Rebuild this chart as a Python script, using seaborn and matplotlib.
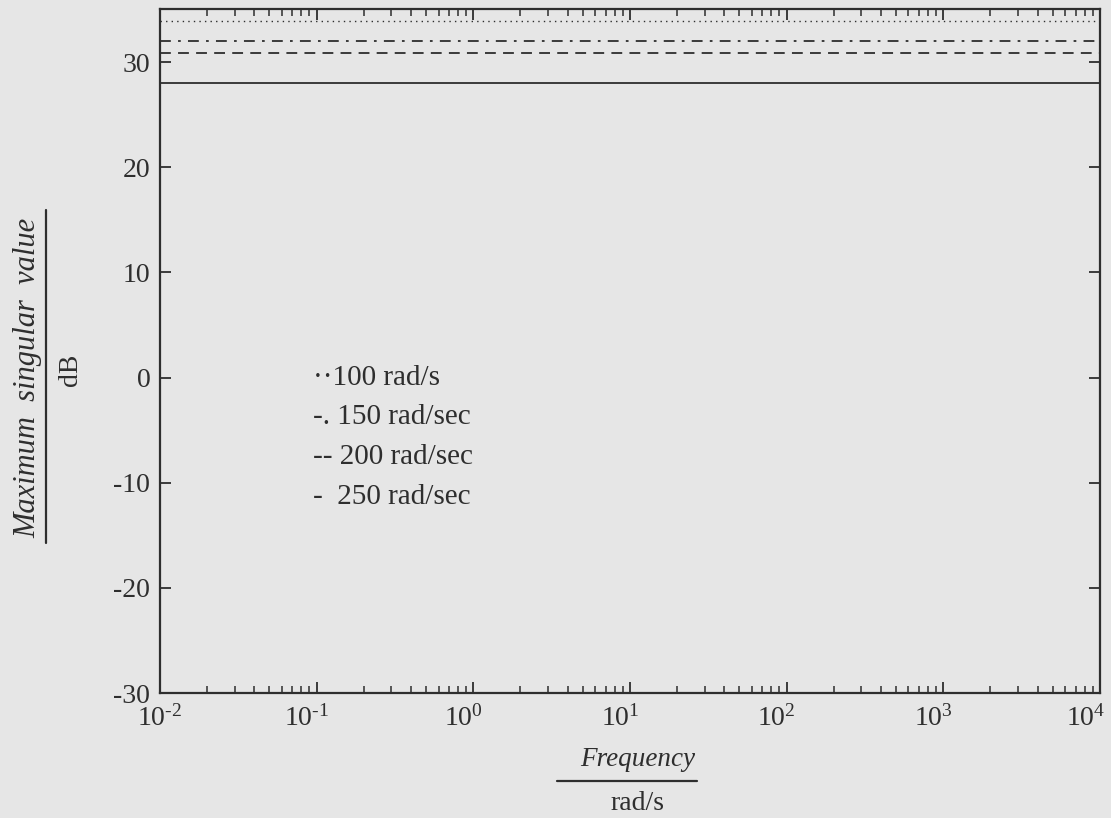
import numpy as np
import pandas as pd
import matplotlib
matplotlib.use("Agg")
import matplotlib.pyplot as plt
from matplotlib.lines import Line2D
from matplotlib.ticker import LogLocator, FixedLocator, FixedFormatter
from matplotlib.transforms import ScaledTranslation
import seaborn as sns

# Maximum singular value (dB) for each bandwidth setting, flat over frequency
freq = [1e-2, 1e4]
sv_100 = [33.9, 33.9]
sv_150 = [32.0, 32.0]
sv_200 = [30.9, 30.9]
sv_250 = [28.0, 28.0]
series_names = ["100 rad/s", "150 rad/sec", "200 rad/sec", "250 rad/sec"]
legend_labels = ["\u00b7\u00b7100 rad/s", "-. 150 rad/sec", "-- 200 rad/sec", "-  250 rad/sec"]
y_ticks = [-30, -20, -10, 0, 10, 20, 30]
x_ticks = [1e-2, 1e-1, 1e0, 1e1, 1e2, 1e3, 1e4]
x_tick_labels = [r"$10^{\text{-2}}$", r"$10^{\text{-1}}$", r"$10^{0}$", r"$10^{1}$",
                 r"$10^{2}$", r"$10^{3}$", r"$10^{4}$"]

df = pd.concat([
    pd.DataFrame({"freq": freq, "sv": vals, "case": name})
    for name, vals in zip(series_names, [sv_100, sv_150, sv_200, sv_250])
])

sns.set_theme(style="ticks")
bg = "#e6e6e6"
ink = "#2e2e2e"
plt.rcParams["font.family"] = ["Liberation Serif", "DejaVu Serif"]
plt.rcParams["mathtext.fontset"] = "custom"
plt.rcParams["mathtext.rm"] = "Liberation Serif"
plt.rcParams["mathtext.it"] = "Liberation Serif:italic"
plt.rcParams["axes.unicode_minus"] = False

fig = plt.figure(figsize=(11.11, 8.18), dpi=100, facecolor=bg)
ax = fig.add_axes([0.144, 0.1528, 0.846, 0.8356], facecolor=bg)

styles = {"100 rad/s": (0, (1, 3)), "150 rad/sec": (0, (6, 4, 1.5, 4)),
          "200 rad/sec": (0, (6, 4)), "250 rad/sec": "-"}
for name in series_names:
    sub = df[df["case"] == name]
    sns.lineplot(data=sub, x="freq", y="sv", ax=ax, color=ink,
                 linewidth=1.3 if name != "100 rad/s" else 1.0,
                 linestyle=styles[name], legend=False)

ax.set_xscale("log")
ax.set_xlim(1e-2, 1e4)
ax.set_ylim(-30, 35)
ax.yaxis.set_major_locator(FixedLocator(y_ticks))
ax.yaxis.set_major_formatter(FixedFormatter([str(t) for t in y_ticks]))
ax.xaxis.set_major_locator(FixedLocator(x_ticks))
ax.xaxis.set_major_formatter(FixedFormatter(x_tick_labels))
ax.xaxis.set_minor_locator(LogLocator(base=10, subs=np.arange(2, 10), numticks=20))
ax.set_xlabel("")
ax.set_ylabel("")

for s in ax.spines.values():
    s.set_color(ink)
    s.set_linewidth(1.6)
ax.tick_params(which="both", direction="in", top=True, right=True, colors=ink)
ax.tick_params(which="major", length=8, width=1.3, labelsize=20, pad=7, labelcolor=ink)
ax.tick_params(which="minor", length=5, width=1.1)
ax.tick_params(axis="x", which="major", pad=9)

# nudge the decade labels slightly left of their ticks (first one stays centred)
xlabels = ax.get_xticklabels()
for k, lab in enumerate(xlabels):
    dx = 0 if k == 0 else (-14 if k == len(xlabels) - 1 else -10)
    lab.set_transform(lab.get_transform()
                      + ScaledTranslation(dx / 100, 0, fig.dpi_scale_trans))

# Legend entries written as plain text inside the axes
for i, lab in enumerate(legend_labels):
    ax.text(0.095, 0 - 3.8 * i, lab, fontsize=21, color=ink, va="center", ha="left")

# Axis labels drawn as fractions: quantity over unit
fig.text(638 / 1111, 1 - 760 / 818, "Frequency", fontsize=19.5, style="italic",
         color=ink, ha="center", va="center")
fig.add_artist(Line2D([557 / 1111, 697 / 1111], [1 - 781 / 818, 1 - 781 / 818],
                      color=ink, linewidth=1.6))
fig.text(637 / 1111, 1 - 803 / 818, "rad/s", fontsize=20, color=ink,
         ha="center", va="center")

fig.text(28 / 1111, 1 - 378 / 818, "Maximum  singular  value", fontsize=22,
         style="italic", color=ink, rotation=90, ha="center", va="center")
fig.add_artist(Line2D([46 / 1111, 46 / 1111], [1 - 543 / 818, 1 - 210 / 818],
                      color=ink, linewidth=1.6))
fig.text(70 / 1111, 1 - 370 / 818, "dB", fontsize=20, color=ink, rotation=90,
         ha="center", va="center")

fig.savefig("out.png", dpi=100, facecolor=bg)
